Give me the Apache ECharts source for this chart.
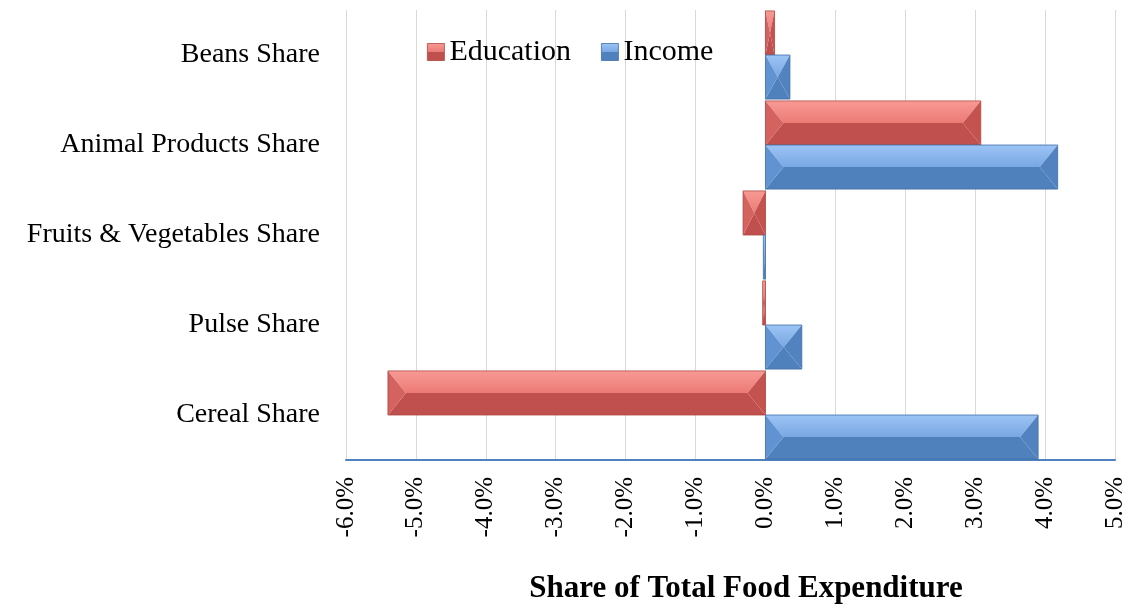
<!DOCTYPE html>
<html>
<head>
<meta charset="utf-8">
<title>Share of Total Food Expenditure</title>
<script src="https://cdn.jsdelivr.net/npm/echarts@6/dist/echarts.min.js"></script>
<style>
  html, body { margin: 0; padding: 0; background: #fff; }
  #chart { width: 1138px; height: 609px; }
</style>
</head>
<body>
<div id="chart"></div>
<script>
// Categories, listed bottom to top along the vertical axis
const categories = ['Cereal Share', 'Pulse Share', 'Fruits & Vegetables Share', 'Animal Products Share', 'Beans Share'];
// Change in share of total food expenditure (percentage points)
const educationValues = [-5.40, -0.04, -0.32, 3.08, 0.13];
const incomeValues = [3.90, 0.52, -0.03, 4.18, 0.35];
const seriesNames = ['Education', 'Income'];
// Value-axis ticks
const tickMin = -6;
const tickMax = 5;
const tickStep = 1;

const FONT = "'Liberation Serif', 'Times New Roman', serif";

const palettes = [
  { top0: '#f89a95', top1: '#ec7a75', bottom: '#c0504d', left: '#d4625e', right: '#c4534f', edge: '#b04642' },
  { top0: '#9cc4f5', top1: '#79a7e3', bottom: '#4f81bd', left: '#6192d1', right: '#5283c0', edge: '#3f6ea8' }
];

// Bevelled bar: light upper half, dark lower half, shaded end triangles.
function bevelBar(slot) {
  const pal = palettes[slot];
  return function (params, api) {
    const val = api.value(0);
    const cat = api.value(1);
    const zero = api.coord([0, cat]);
    const end = api.coord([val, cat]);
    const band = api.size([0, 1])[1];
    const half = band / 2 - band * 0.01;
    const y0 = slot === 0 ? zero[1] - half : zero[1];
    const y1 = slot === 0 ? zero[1] : zero[1] + half;
    let x0 = Math.min(zero[0], end[0]);
    let x1 = Math.max(zero[0], end[0]);
    if (x1 - x0 < 1.2) { x1 = x0 + 1.2; }
    const w = x1 - x0;
    const b = Math.min(18, w / 2);
    const ym = (y0 + y1) / 2;
    return {
      type: 'group',
      children: [
        { type: 'polygon', shape: { points: [[x0, y1], [x0 + b, ym], [x1 - b, ym], [x1, y1]] },
          style: { fill: pal.bottom } },
        { type: 'polygon', shape: { points: [[x0, y0], [x1, y0], [x1 - b, ym], [x0 + b, ym]] },
          style: { fill: new echarts.graphic.LinearGradient(0, 0, 0, 1, [
            { offset: 0, color: pal.top0 }, { offset: 1, color: pal.top1 }]) } },
        { type: 'polygon', shape: { points: [[x0, y0], [x0 + b, ym], [x0, y1]] },
          style: { fill: pal.left } },
        { type: 'polygon', shape: { points: [[x1, y0], [x1, y1], [x1 - b, ym]] },
          style: { fill: pal.right } },
        { type: 'rect', shape: { x: x0, y: y0, width: w, height: y1 - y0 },
          style: { fill: null, stroke: pal.edge, lineWidth: 0.8 } }
      ]
    };
  };
}

function toData(values) {
  return values.map((v, i) => [v, i]);
}

const chart = echarts.init(document.getElementById('chart'), null, { renderer: 'canvas' });

chart.setOption({
  animation: false,
  backgroundColor: '#ffffff',
  grid: { left: 346, right: 23, top: 10, bottom: 149 },
  legend: {
    left: 422,
    top: 32,
    icon: 'rect',
    itemWidth: 17,
    itemHeight: 17,
    itemGap: 30,
    textStyle: { fontFamily: FONT, fontSize: 30, color: '#000' },
    data: seriesNames.map((name, i) => ({
      name: name,
      itemStyle: {
        color: new echarts.graphic.LinearGradient(0, 0, 0, 1, [
          { offset: 0, color: palettes[i].top0 },
          { offset: 0.5, color: palettes[i].top1 },
          { offset: 0.5, color: palettes[i].bottom },
          { offset: 1, color: palettes[i].bottom }
        ]),
        borderColor: palettes[i].edge,
        borderWidth: 0.8
      }
    }))
  },
  xAxis: {
    type: 'value',
    min: tickMin,
    max: tickMax,
    interval: tickStep,
    axisLine: { show: true, onZero: false, lineStyle: { color: '#4f81bd', width: 2 } },
    axisTick: { show: false },
    splitLine: { show: true, lineStyle: { color: '#d9d9d9', width: 1 } },
    axisLabel: {
      rotate: 90,
      margin: 17,
      fontFamily: FONT,
      fontSize: 25,
      color: '#000',
      formatter: v => v.toFixed(1) + '%'
    }
  },
  yAxis: {
    type: 'category',
    data: categories,
    axisLine: { show: false },
    axisTick: { show: false },
    splitLine: { show: false },
    axisLabel: { margin: 26, fontFamily: FONT, fontSize: 28, color: '#000' }
  },
  graphic: [{
    type: 'text',
    x: 746,
    y: 589,
    style: {
      text: 'Share of Total Food Expenditure',
      font: 'bold 31px ' + FONT,
      fill: '#000',
      textAlign: 'center',
      textVerticalAlign: 'middle'
    }
  }],
  series: [
    {
      name: seriesNames[0],
      type: 'custom',
      renderItem: bevelBar(0),
      encode: { x: 0, y: 1 },
      itemStyle: { color: '#c0504d' },
      data: toData(educationValues)
    },
    {
      name: seriesNames[1],
      type: 'custom',
      renderItem: bevelBar(1),
      encode: { x: 0, y: 1 },
      itemStyle: { color: '#4f81bd' },
      data: toData(incomeValues)
    }
  ]
});
</script>
</body>
</html>
